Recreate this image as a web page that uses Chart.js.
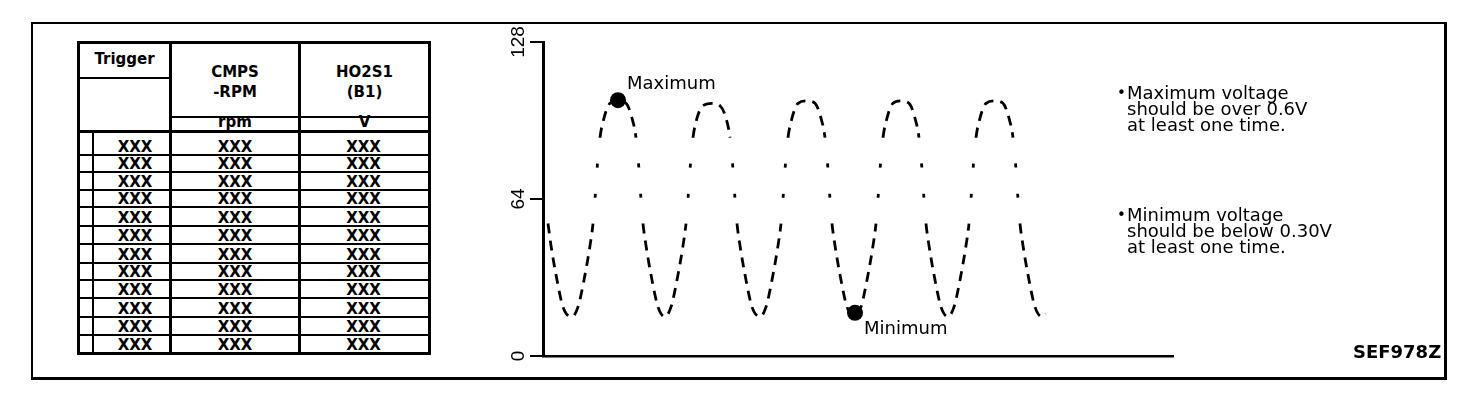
<!DOCTYPE html>
<html>
<head>
<meta charset="utf-8">
<script src="https://cdn.jsdelivr.net/npm/chart.js@4.4.1/dist/chart.umd.min.js"></script>
<style>
  html, body { margin: 0; padding: 0; background: #fff; }
  body { width: 1472px; height: 408px; position: relative; overflow: hidden; font-family: "DejaVu Sans", sans-serif; color: #000; }
  #chart { position: absolute; left: 0; top: 0; }
  .frame { position: absolute; left: 31px; top: 22px; width: 1416px; height: 358px; box-sizing: border-box;
           border-left: 2px solid #000; border-top: 2px solid #000; border-right: 3px solid #000; border-bottom: 3px solid #000; }
  .ln { position: absolute; background: #000; }
  .cell { position: absolute; font-weight: bold; font-size: 15px; text-align: center; white-space: pre; }
  .note { position: absolute; left: 1127px; font-size: 18px; line-height: 16px; white-space: pre; }
  .bullet { position: absolute; left: -10px; top: 0; font-size: 15px; }
  .code { position: absolute; left: 1353px; top: 343px; font-size: 18px; line-height: 18px; font-weight: bold; }
</style>
</head>
<body>
<div class="frame"></div>
<div id="table"></div>
<canvas id="chart" width="1472" height="408"></canvas>
<div class="note" style="top:84.5px"><span class="bullet">•</span>Maximum voltage
should be over 0.6V
at least one time.</div>
<div class="note" style="top:207px"><span class="bullet">•</span>Minimum voltage
should be below 0.30V
at least one time.</div>
<div class="code">SEF978Z</div>
<script>
// waveform (x = time units, y = sensor counts 0..128)
const timeUnits = [0.2, 0.5, 0.8, 1.4, 2.0,
  2.9, 3.5, 4.1, 4.7, 5.0, 5.2, 5.4, 5.7, 6.1, 6.7, 7.5, 8.3, 8.9, 9.3, 9.6, 9.8, 10.0, 10.3, 10.9, 11.5,
  12.2, 12.8, 13.4, 14.0, 14.3, 14.5, 14.7, 15.0, 15.4, 16.0, 16.9, 17.7, 18.3, 18.7, 19.0, 19.2, 19.4, 19.7, 20.3, 20.9,
  21.7, 22.3, 22.9, 23.5, 23.8, 24.0, 24.2, 24.5, 24.9, 25.5, 26.4, 27.2, 27.8, 28.2, 28.5, 28.7, 28.9, 29.2, 29.8, 30.4,
  31.2, 31.8, 32.4, 33.0, 33.3, 33.5, 33.7, 34.0, 34.4, 35.0, 35.8, 36.6, 37.2, 37.6, 37.9, 38.1, 38.3, 38.6, 39.2, 39.8,
  40.5, 41.1, 41.7, 42.3, 42.6, 42.8, 43.0, 43.3, 43.7, 44.3, 45.2, 46.0, 46.6, 47.0, 47.3, 47.5, 47.7, 48.0, 48.6, 49.2,
  49.9, 50.3];
const sensorCounts = [62, 54, 45, 31, 20,
  16, 20, 31, 45, 54, 64, 76, 89, 97, 103, 104, 103, 97, 89, 76, 64, 54, 45, 31, 20,
  16, 20, 31, 45, 54, 64, 76, 89, 97, 102, 103, 102, 97, 89, 76, 64, 54, 45, 31, 20,
  16, 20, 31, 45, 54, 64, 76, 89, 97, 103, 104, 103, 97, 89, 76, 64, 54, 45, 31, 20,
  16, 20, 31, 45, 54, 64, 76, 89, 97, 103, 104, 103, 97, 89, 76, 64, 54, 45, 31, 20,
  16, 20, 31, 45, 54, 64, 76, 89, 97, 103, 104, 103, 97, 89, 76, 64, 54, 45, 31, 20,
  16, 17];

const markerTime = [7.5, 31.2];
const markerCounts = [104.3, 17.6];
const markerLabels = ["Maximum", "Minimum"];

const yTicks = [0, 64, 128];

// data table on the left
const tableHeader = ["Trigger", "CMPS\n-RPM", "HO2S1\n(B1)"];
const tableUnits = ["", "rpm", "V"];
const tableRows = [
  ["XXX", "XXX", "XXX"], ["XXX", "XXX", "XXX"], ["XXX", "XXX", "XXX"],
  ["XXX", "XXX", "XXX"], ["XXX", "XXX", "XXX"], ["XXX", "XXX", "XXX"],
  ["XXX", "XXX", "XXX"], ["XXX", "XXX", "XXX"], ["XXX", "XXX", "XXX"],
  ["XXX", "XXX", "XXX"], ["XXX", "XXX", "XXX"], ["XXX", "XXX", "XXX"]
];

function buildTable() {
  const t = document.getElementById("table");
  let html = "";
  const line = (x, y, w, h) => { html += `<div class="ln" style="left:${x}px;top:${y}px;width:${w}px;height:${h}px"></div>`; };
  const text = (s, x, y, w, lh) => { html += `<div class="cell" style="left:${x}px;top:${y}px;width:${w}px;line-height:${lh}px">${s}</div>`; };

  // outline and columns
  line(77, 41, 354, 3); line(77, 352, 354, 3);
  line(77, 41, 3, 314); line(428, 41, 3, 314);
  line(169, 41, 3, 314); line(298, 41, 3, 314);
  line(79, 77, 91, 2);          // under "Trigger"
  line(171, 116, 258, 2);       // above units
  line(79, 130, 350, 3);        // under units
  line(92, 131, 2, 222);        // narrow trigger mark column

  const rowBottoms = [155, 172, 190, 207, 226, 244, 263, 280, 298, 317, 335, 353];
  rowBottoms.slice(0, -1).forEach(b => line(79, b - 1, 350, 2));

  text(tableHeader[0], 80, 52, 89, 15);
  text(tableHeader[1], 172, 61.5, 126, 20.5);
  text(tableHeader[2], 301, 61.5, 127, 20.5);
  text(tableUnits[1], 172, 114.5, 126, 15);
  text(tableUnits[2], 301, 114.5, 127, 15);

  const colX = [[100, 70], [172, 126], [301, 125]];
  tableRows.forEach((row, i) => {
    const top = rowBottoms[i] - 2 - 12.8;
    row.forEach((s, j) => text(s, colX[j][0], top, colX[j][1], 15));
  });
  t.innerHTML = html;
}
buildTable();

const labelsPlugin = {
  id: "labels",
  afterDraw(chart) {
    const { ctx, scales: { x, y } } = chart;
    ctx.save();
    ctx.fillStyle = "#000";
    ctx.font = '19px "Liberation Sans"';
    ctx.textAlign = "center";
    ctx.textBaseline = "middle";
    y.ticks.forEach(t => {
      const py = y.getPixelForValue(t.value);
      ctx.save();
      ctx.translate(y.right - 24, py);
      ctx.rotate(-Math.PI / 2);
      ctx.fillText(String(t.value), 0, 0);
      ctx.restore();
    });
    ctx.font = '18px "DejaVu Sans"';
    ctx.textAlign = "left";
    markerLabels.forEach((label, i) => {
      const px = x.getPixelForValue(markerTime[i]);
      const py = y.getPixelForValue(markerCounts[i]);
      ctx.fillText(label, px + 9, py + (i === 0 ? -16 : 17));
    });
    ctx.restore();
  }
};

// the steep middle of each swing shows only sparse dots in the original
const inBand = v => v >= 54 && v <= 89;
const steep = ctx => inBand(ctx.p0.parsed.y) && inBand(ctx.p1.parsed.y);

new Chart(document.getElementById("chart"), {
  type: "line",
  data: {
    datasets: [
      {
        label: "HO2S1",
        data: timeUnits.map((t, i) => ({ x: t, y: sensorCounts[i] })),
        borderColor: "#000",
        borderWidth: 2.8,
        borderDash: [10, 7],
        pointRadius: 0,
        cubicInterpolationMode: "monotone",
        segment: {
          borderDash: ctx => steep(ctx) ? [4, 26] : [10, 7],
          borderDashOffset: ctx => steep(ctx) ? 4 : 0
        }
      },
      {
        type: "scatter",
        label: "markers",
        data: markerTime.map((t, i) => ({ x: t, y: markerCounts[i] })),
        pointRadius: 8,
        backgroundColor: "#000",
        borderWidth: 0
      }
    ]
  },
  options: {
    responsive: false,
    animation: false,
    devicePixelRatio: 1,
    layout: { padding: { left: 0, right: 299, top: 42, bottom: 52 } },
    plugins: { legend: { display: false }, tooltip: { enabled: false } },
    scales: {
      x: {
        type: "linear", min: 0, max: 63,
        grid: { display: false },
        ticks: { display: false },
        border: { display: true, color: "#000", width: 2.5 },
        afterFit: s => { s.height = 0; }
      },
      y: {
        min: 0, max: 128,
        afterBuildTicks: s => { s.ticks = yTicks.map(v => ({ value: v })); },
        ticks: { display: false },
        grid: { drawOnChartArea: false, drawTicks: true, tickLength: 13, color: "#000", lineWidth: 2 },
        border: { color: "#000", width: 3 },
        afterFit: s => { s.width = 543; }
      }
    }
  },
  plugins: [labelsPlugin]
});
</script>
</body>
</html>
